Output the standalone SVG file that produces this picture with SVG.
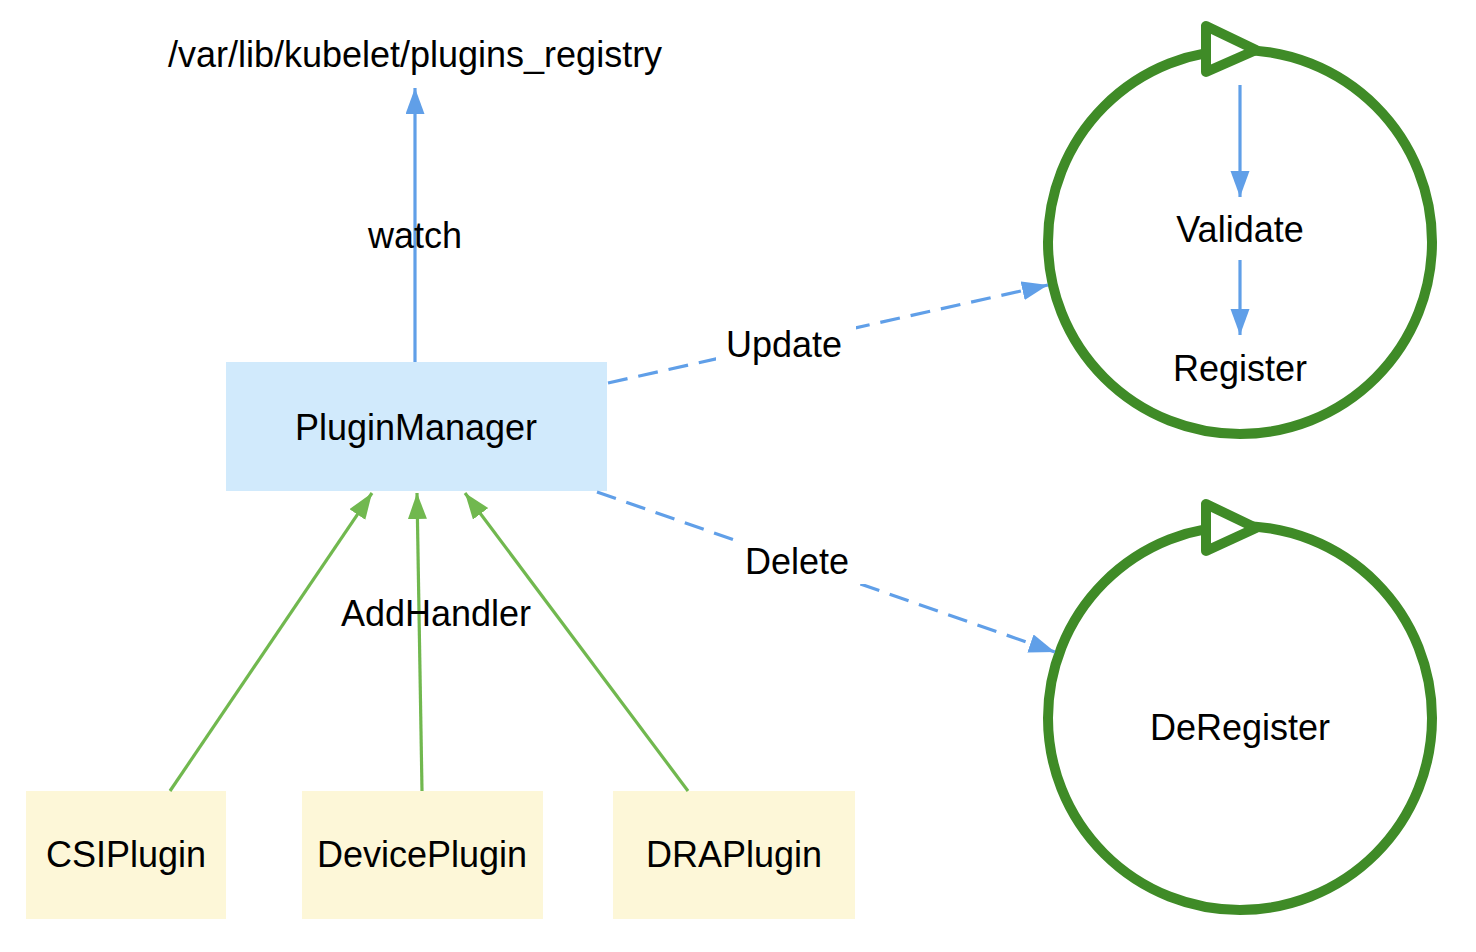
<svg xmlns="http://www.w3.org/2000/svg" width="1476" height="952" viewBox="0 0 1476 952">
<style>
text{font-family:"Liberation Sans",Arial,Helvetica,sans-serif;font-size:36px;fill:#000;text-anchor:middle}
.blue{stroke:#609fe8;stroke-width:3.2;fill:none}
.dash{stroke-dasharray:20 11}
.green{stroke:#71b84f;stroke-width:3.2;fill:none}
.ring{stroke:#3f8b27;stroke-width:10;fill:none}
.tri{stroke:#3f8b27;stroke-width:10;fill:#fff;stroke-linejoin:round}
.pm{fill:#d1eafc}
.pl{fill:#fdf7d8}
.bg{fill:#fff}
</style>
<defs>
<marker id="ab" markerUnits="userSpaceOnUse" markerWidth="27" markerHeight="20" refX="26" refY="9.5" orient="auto" viewBox="0 0 27 20">
<path d="M0,0 L26,9.5 L0,19 z" fill="#609fe8"/>
</marker>
<marker id="ag" markerUnits="userSpaceOnUse" markerWidth="27" markerHeight="20" refX="26" refY="9.5" orient="auto" viewBox="0 0 27 20">
<path d="M0,0 L26,9.5 L0,19 z" fill="#71b84f"/>
</marker>
</defs>
<g id="registry"><text x="415" y="67">/var/lib/kubelet/plugins_registry</text></g>
<g id="validate-cluster">
<circle class="ring" cx="1240" cy="242" r="192"/>
<polygon class="tri" points="1206,26 1206,72 1256,50"/>
</g>
<g id="deregister-cluster">
<circle class="ring" cx="1240" cy="718" r="192"/>
<polygon class="tri" points="1206,504 1206,551 1256,528"/>
</g>
<g id="PluginManager"><rect class="pm" x="226" y="362" width="381" height="129"/><text x="416" y="440">PluginManager</text></g>
<g id="CSIPlugin"><rect class="pl" x="26" y="791" width="200" height="128"/><text x="126" y="867">CSIPlugin</text></g>
<g id="DevicePlugin"><rect class="pl" x="302" y="791" width="241" height="128"/><text x="422" y="867">DevicePlugin</text></g>
<g id="DRAPlugin"><rect class="pl" x="613" y="791" width="242" height="128"/><text x="734" y="867">DRAPlugin</text></g>
<g id="Validate"><text x="1240" y="242">Validate</text></g>
<g id="Register"><text x="1240" y="381">Register</text></g>
<g id="DeRegister"><text x="1240" y="740">DeRegister</text></g>
<g id="connectors">
<line class="blue" x1="415" y1="362" x2="415" y2="88" marker-end="url(#ab)"/>
<text x="415" y="248">watch</text>
<line class="blue" x1="1240" y1="85" x2="1240" y2="197" marker-end="url(#ab)"/>
<line class="blue" x1="1240" y1="260" x2="1240" y2="335" marker-end="url(#ab)"/>
<line class="blue dash" x1="608" y1="383" x2="1048" y2="285" marker-end="url(#ab)"/>
<rect class="bg" x="716" y="322" width="140" height="46"/>
<text x="784" y="357">Update</text>
<line class="blue dash" x1="597" y1="492" x2="1055" y2="652" marker-end="url(#ab)"/>
<rect class="bg" x="734" y="538" width="133" height="46"/>
<text x="797" y="574">Delete</text>
<line class="green" x1="170" y1="791" x2="372" y2="493" marker-end="url(#ag)"/>
<line class="green" x1="422" y1="791" x2="417" y2="493" marker-end="url(#ag)"/>
<line class="green" x1="688" y1="791" x2="465" y2="493" marker-end="url(#ag)"/>
<text x="436" y="626">AddHandler</text>
</g>
</svg>
